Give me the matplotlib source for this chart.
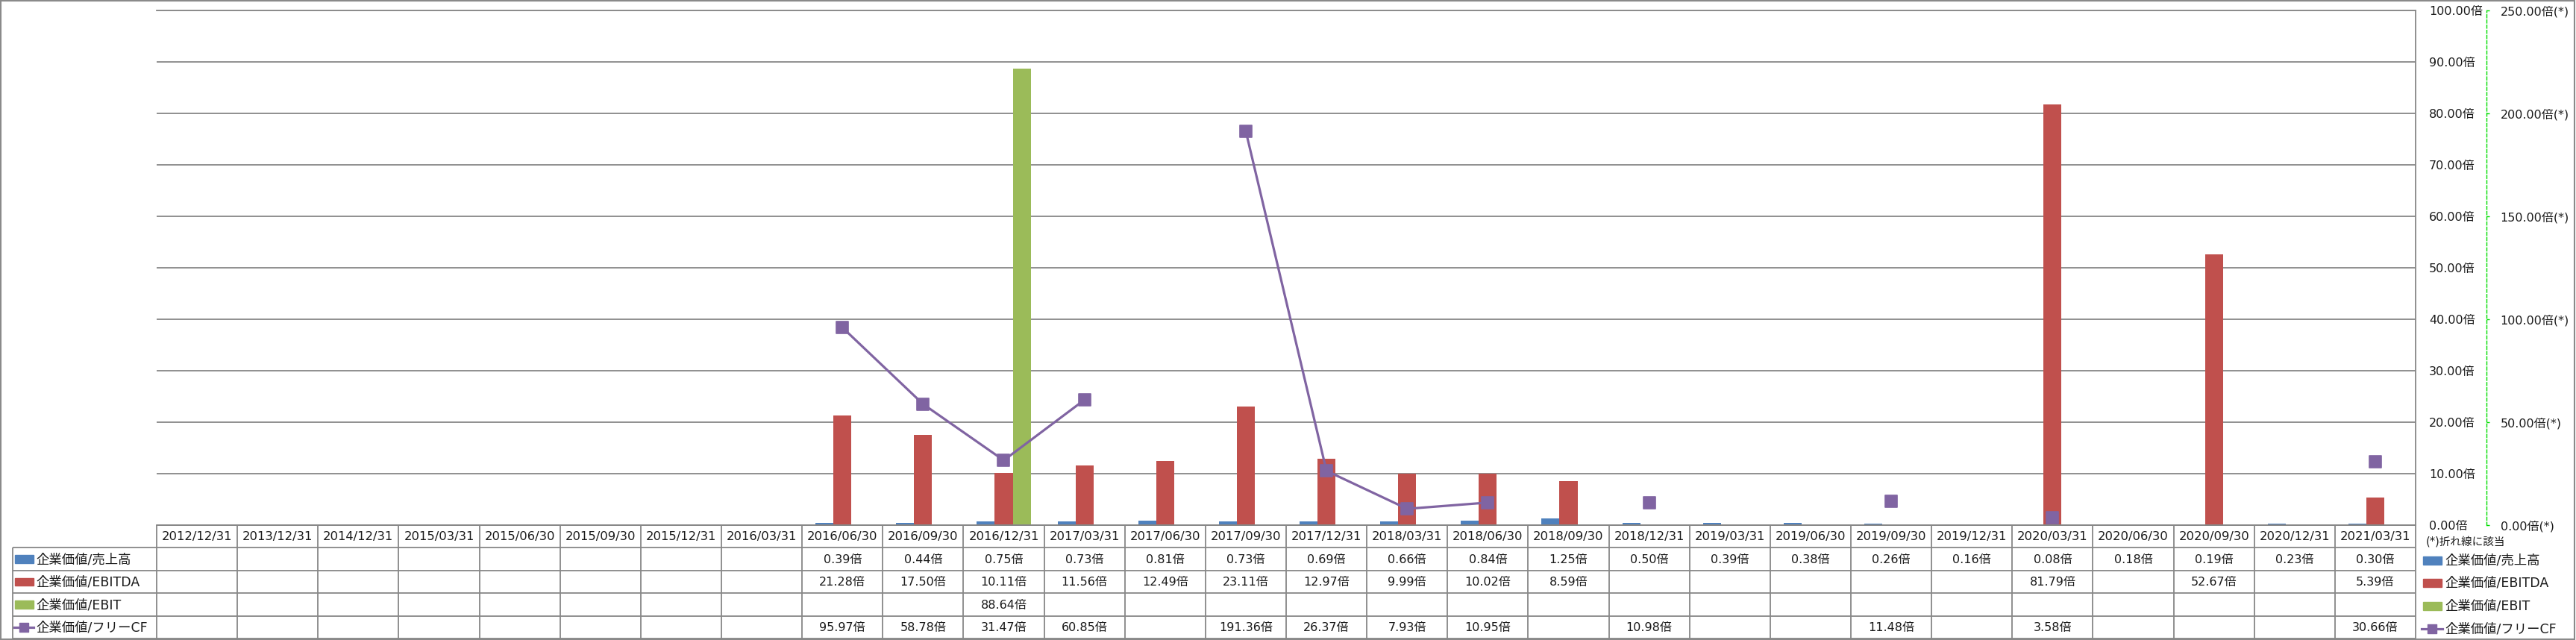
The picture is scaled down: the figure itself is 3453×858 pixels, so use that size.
import numpy as np
import matplotlib
matplotlib.use('Agg')
import matplotlib.pyplot as plt
from matplotlib.markers import MarkerStyle
from matplotlib.patches import Rectangle

plt.rcParams['font.family'] = ['DejaVu Sans', 'Noto Sans CJK JP']

# data
dates = ['2012/12/31', '2013/12/31', '2014/12/31', '2015/03/31', '2015/06/30', '2015/09/30',
         '2015/12/31', '2016/03/31', '2016/06/30', '2016/09/30', '2016/12/31', '2017/03/31',
         '2017/06/30', '2017/09/30', '2017/12/31', '2018/03/31', '2018/06/30', '2018/09/30',
         '2018/12/31', '2019/03/31', '2019/06/30', '2019/09/30', '2019/12/31', '2020/03/31',
         '2020/06/30', '2020/09/30', '2020/12/31', '2021/03/31']
nan = np.nan
ev_sales = [nan] * 8 + [0.39, 0.44, 0.75, 0.73, 0.81, 0.73, 0.69, 0.66, 0.84, 1.25,
                        0.50, 0.39, 0.38, 0.26, 0.16, 0.08, 0.18, 0.19, 0.23, 0.30]
ev_ebitda = [nan] * 8 + [21.28, 17.50, 10.11, 11.56, 12.49, 23.11, 12.97, 9.99, 10.02, 8.59,
                         nan, nan, nan, nan, nan, 81.79, nan, 52.67, nan, 5.39]
ev_ebit = [nan] * 10 + [88.64] + [nan] * 17
ev_fcf = [nan] * 8 + [95.97, 58.78, 31.47, 60.85, nan, 191.36, 26.37, 7.93, 10.95, nan,
                      10.98, nan, nan, 11.48, nan, 3.58, nan, nan, nan, 30.66]

labels = ['企業価値/売上高', '企業価値/EBITDA', '企業価値/EBIT', '企業価値/フリーCF']
colors = ['#4F81BD', '#C0504D', '#9BBB59', '#8064A2']
series = [ev_sales, ev_ebitda, ev_ebit, ev_fcf]

W, H = 3453, 858
GRID = '#878787'
TXT = '#1a1a1a'
FS = 11.5      # numbers
FS_LAB = 12.5  # series names


def px_rect(l, t, r, b):
    return [l / W, 1 - b / H, (r - l) / W, (b - t) / H]


fig = plt.figure(figsize=(W / 100, H / 100), dpi=100)

# pixel overlay for frame and right legend
lax = fig.add_axes([0, 0, 1, 1], zorder=-5)
lax.set_xlim(0, W)
lax.set_ylim(H, 0)
lax.axis('off')
lax.add_patch(Rectangle((1, 1), W - 2.5, H - 2.5, fill=False, ec='#8a8a8a', lw=1.5))

x = np.arange(len(dates))
bw = 0.222

ax = fig.add_axes(px_rect(210, 14, 3238, 704))
ax.bar(x - bw, np.array(ev_sales, float), bw, color=colors[0], zorder=2)
ax.bar(x, np.array(ev_ebitda, float), bw, color=colors[1], zorder=2)
ax.bar(x + bw, np.array(ev_ebit, float), bw, color=colors[2], zorder=2)
ax.set_xlim(-0.5, len(dates) - 0.5)
ax.set_ylim(0, 100)
ax.set_xticks([])
ax.grid(axis='y', color=GRID, lw=1.3)
ax.set_axisbelow(True)
ax.spines['left'].set_visible(False)
for s in ['right', 'top', 'bottom']:
    ax.spines[s].set_color(GRID)
    ax.spines[s].set_linewidth(1.3)

ax2 = ax.twinx()
sq = MarkerStyle('s', joinstyle='round')
ax2.plot(x, np.array(ev_fcf, float), color=colors[3], lw=2.3, marker=sq,
         markersize=11.5, markeredgewidth=1.2, zorder=3)
ax2.set_ylim(0, 250)
ax2.set_yticks(np.arange(0, 251, 50))
ax2.set_yticklabels([f'{v:.2f}倍(*)' for v in np.arange(0, 251, 50)])
for s in ['left', 'top', 'bottom']:
    ax2.spines[s].set_visible(False)
ax2.spines['right'].set_position(('outward', 68.4))
ax2.spines['right'].set_color('#00dd00')
ax2.spines['right'].set_linestyle((0, (3, 2)))
ax2.spines['right'].set_linewidth(1)
ax2.tick_params(axis='y', length=3, width=1, color='#00dd00', pad=10.5,
                labelsize=FS, labelcolor=TXT)

# primary labels sit on the right too (twinx moved them left)
ax.yaxis.tick_right()
ax.set_yticks(np.arange(0, 101, 10))
ax.set_yticklabels([f'{v:.2f}倍' for v in np.arange(0, 101, 10)])
ax.tick_params(axis='y', length=0, pad=13, labelsize=FS, labelcolor=TXT)

# data table under the chart
cw = (3238 - 210) / len(dates)
x0 = -0.5 - (210 - 17) / cw
tax = fig.add_axes(px_rect(17, 704, 3238, 856))
tax.set_xlim(x0, len(dates) - 0.5)
tax.set_ylim(5, 0)
tax.axis('off')
tax.hlines(0, -0.5, len(dates) - 0.5, color=GRID, lw=1.3, clip_on=False)
tax.hlines(np.arange(1, 6), x0, len(dates) - 0.5, color=GRID, lw=1.3, clip_on=False)
tax.vlines(np.arange(len(dates) + 1) - 0.5, 0, 5, color=GRID, lw=1.3, clip_on=False)
tax.vlines(x0, 1, 5, color=GRID, lw=1.3, clip_on=False)

for i, d in enumerate(dates):
    tax.text(i, 0.52, d, ha='center', va='center', fontsize=FS + 0.3, color=TXT)
for r, vals in enumerate(series):
    for i, v in enumerate(vals):
        if not np.isnan(v):
            tax.text(i, r + 1.52, f'{v:.2f}倍', ha='center', va='center', fontsize=FS, color=TXT)

px = 1 / cw
for r, (lab, c) in enumerate(zip(labels, colors)):
    yc = r + 1.5
    if r < 3:
        tax.add_patch(Rectangle((x0 + 3 * px, yc - 0.18), 25 * px, 0.36, color=c, clip_on=False))
    else:
        tax.plot([x0 + 2 * px, x0 + 28 * px], [yc, yc], color=c, lw=2.3, clip_on=False)
        tax.plot([x0 + 15 * px], [yc], color=c, marker=sq, markersize=9, clip_on=False)
    tax.text(x0 + 31 * px, yc + 0.02, lab, ha='left', va='center', fontsize=FS_LAB, color=TXT)

# right-hand legend
lax.text(3252, 726, '(*)折れ線に該当', ha='left', va='center', fontsize=10.5, color=TXT)
for k, (lab, c) in enumerate(zip(labels, colors)):
    yc = 751 + k * 30.5
    if k < 3:
        lax.add_patch(Rectangle((3248, yc - 5.5), 25, 11, color=c))
    else:
        lax.plot([3246, 3274], [yc, yc], color=c, lw=2.3)
        lax.plot([3260], [yc], color=c, marker=sq, markersize=9)
    lax.text(3277, yc + 0.5, lab, ha='left', va='center', fontsize=FS_LAB, color=TXT)

fig.savefig('out.png', dpi=100)
